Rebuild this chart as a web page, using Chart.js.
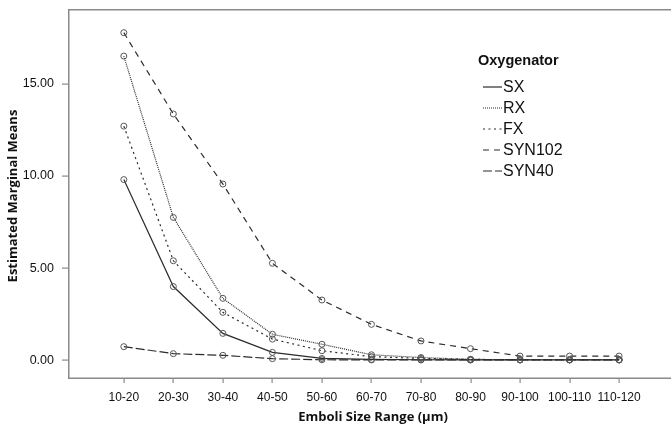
<!DOCTYPE html>
<html>
<head>
<meta charset="utf-8">
<script src="https://cdn.jsdelivr.net/npm/chart.js@4/dist/chart.umd.min.js"></script>
<style>
  html, body { margin: 0; padding: 0; background: #fff; overflow: hidden; }
  #wrap { width: 671px; height: 425px; }
</style>
</head>
<body>
<div id="wrap"><canvas id="emboliChart" width="671" height="425"></canvas></div>
<script>
// size ranges on the x axis
const sizeRanges = ['10-20', '20-30', '30-40', '40-50', '50-60', '60-70', '70-80', '80-90', '90-100', '100-110', '110-120'];
const yTickValues = [0, 5, 10, 15];

// estimated marginal means per oxygenator
const sxMeans     = [9.8, 4.0, 1.46, 0.43, 0.10, 0.05, 0.03, 0.02, 0.02, 0.02, 0.02];
const rxMeans     = [16.5, 7.75, 3.36, 1.41, 0.87, 0.30, 0.15, 0.05, 0.03, 0.03, 0.03];
const fxMeans     = [12.7, 5.4, 2.6, 1.15, 0.52, 0.20, 0.10, 0.05, 0.03, 0.03, 0.03];
const syn102Means = [17.77, 13.36, 9.56, 5.26, 3.27, 1.95, 1.05, 0.63, 0.23, 0.23, 0.23];
const syn40Means  = [0.74, 0.36, 0.27, 0.09, 0.03, 0.02, 0.02, 0.02, 0.02, 0.02, 0.02];

const lineColor = '#2b2b2b';
const markerColor = '#555';
const axisColor = '#8a8a8a';

function toPoints(arr) {
  return arr.map((v, i) => ({ x: i, y: v }));
}

function makeSeries(label, values, dash) {
  return {
    label: label,
    data: toPoints(values),
    borderColor: lineColor,
    borderWidth: 1.2,
    borderDash: dash,
    pointRadius: 3,
    pointBorderWidth: 1,
    pointBorderColor: markerColor,
    pointBackgroundColor: 'rgba(255,255,255,0)',
    tension: 0,
    fill: false
  };
}

const datasets = [
  makeSeries('SX', sxMeans, []),
  makeSeries('RX', rxMeans, [1, 1]),
  makeSeries('FX', fxMeans, [2, 3.5]),
  makeSeries('SYN102', syn102Means, [6, 5]),
  makeSeries('SYN40', syn40Means, [9, 3])
];

// axis frame + tick marks (filled rects), drawn under the lines
const axesPlugin = {
  id: 'axesFrame',
  beforeDatasetsDraw(chart) {
    const ctx = chart.ctx;
    const a = chart.chartArea;
    const xs = chart.scales.x, ys = chart.scales.y;
    const left = Math.round(a.left), top = Math.round(a.top), bottom = Math.round(a.bottom);
    ctx.save();
    ctx.fillStyle = axisColor;
    ctx.fillRect(left - 1, top - 1, 671 - left + 1, 1.5);
    ctx.fillRect(left - 1, top - 1, 1.5, bottom - top + 2);
    ctx.fillRect(left - 1, bottom - 0.5, 671 - left + 1, 1.5);
    yTickValues.forEach(v => {
      const y = Math.round(ys.getPixelForValue(v));
      ctx.fillRect(left - 7, y - 0.5, 6, 1.2);
    });
    sizeRanges.forEach((s, i) => {
      const x = Math.round(xs.getPixelForValue(i));
      ctx.fillRect(x - 0.5, bottom, 1.2, 5);
    });
    ctx.restore();
  }
};

// axis titles and the legend block
const extrasPlugin = {
  id: 'extras',
  afterDraw(chart) {
    const ctx = chart.ctx;
    ctx.save();
    ctx.fillStyle = '#111';
    ctx.font = 'bold 13px "Open Sans"';
    ctx.textAlign = 'center';
    ctx.textBaseline = 'middle';
    ctx.fillText('Emboli Size Range (\u00b5m)', 373, 417);
    ctx.translate(13, 196);
    ctx.rotate(-Math.PI / 2);
    ctx.fillText('Estimated Marginal Means', 0, 0);
    ctx.restore();

    // legend
    ctx.save();
    ctx.fillStyle = '#111';
    ctx.textAlign = 'left';
    ctx.textBaseline = 'middle';
    ctx.font = 'bold 14.5px Arial';
    ctx.fillText('Oxygenator', 478, 61);
    ctx.font = '16px Arial';
    const rowY = [87, 108, 129, 150, 171];
    chart.data.datasets.forEach((ds, i) => {
      const y = rowY[i];
      ctx.strokeStyle = lineColor;
      ctx.lineWidth = 1.2;
      ctx.setLineDash(ds.borderDash);
      ctx.beginPath();
      ctx.moveTo(483, y);
      ctx.lineTo(502, y);
      ctx.stroke();
      ctx.setLineDash([]);
      ctx.fillText(ds.label, 503, y + 1);
    });
    ctx.restore();
  }
};

new Chart(document.getElementById('emboliChart'), {
  type: 'line',
  data: { datasets: datasets },
  options: {
    responsive: false,
    animation: false,
    devicePixelRatio: 1,
    layout: { padding: { top: 10, right: 0, left: 0, bottom: 0 } },
    plugins: {
      legend: { display: false },
      tooltip: { enabled: false }
    },
    scales: {
      x: {
        type: 'linear',
        min: -1.107,
        max: 10.947,
        afterBuildTicks(scale) {
          scale.ticks = sizeRanges.map((s, i) => ({ value: i }));
        },
        afterFit(scale) {
          scale.height = 47;
          scale.paddingLeft = 0;
          scale.paddingRight = 0;
        },
        grid: { display: false },
        border: { display: false },
        ticks: {
          color: '#111',
          font: { family: 'Arial', size: 12 },
          padding: 4,
          maxRotation: 0,
          autoSkip: false,
          callback: (v) => sizeRanges[v]
        }
      },
      y: {
        min: -0.96,
        max: 19.0,
        afterBuildTicks(scale) {
          scale.ticks = yTickValues.map(v => ({ value: v }));
        },
        afterFit(scale) {
          scale.width = 69;
          scale.paddingTop = 0;
          scale.paddingBottom = 0;
        },
        grid: { display: false },
        border: { display: false },
        ticks: {
          color: '#111',
          font: { family: 'Arial', size: 12.5 },
          padding: 7,
          callback: (v) => v.toFixed(2)
        }
      }
    }
  },
  plugins: [axesPlugin, extrasPlugin]
});
</script>
</body>
</html>
